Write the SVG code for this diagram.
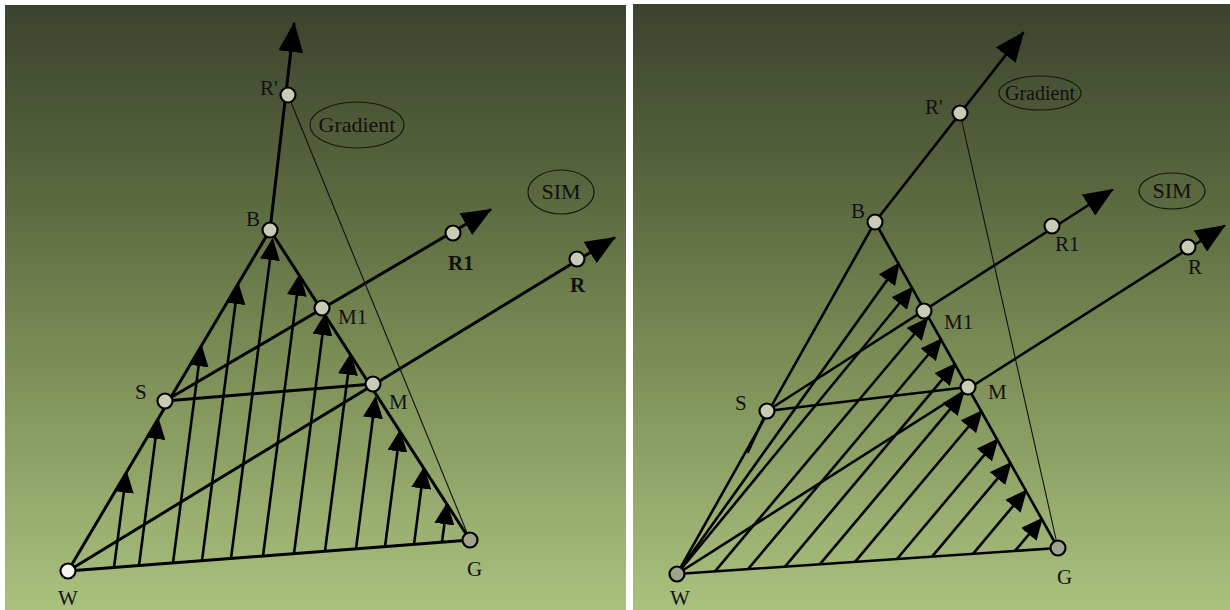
<svg xmlns="http://www.w3.org/2000/svg" width="1230" height="610" viewBox="0 0 1230 610">
<defs>
<linearGradient id="bg" x1="0" y1="0" x2="0" y2="1">
<stop offset="0" stop-color="#3b432d"/>
<stop offset="0.3" stop-color="#59663e"/>
<stop offset="0.6" stop-color="#7d8f57"/>
<stop offset="1" stop-color="#aac17e"/>
</linearGradient>
<marker id="a" viewBox="0 0 22 20" refX="20" refY="10" markerWidth="22" markerHeight="20" orient="auto" markerUnits="userSpaceOnUse"><path d="M0,0 L22,10 L0,20 z" fill="#000"/></marker>
<marker id="big" viewBox="0 0 30 25" refX="28" refY="12.5" markerWidth="30" markerHeight="25" orient="auto" markerUnits="userSpaceOnUse"><path d="M0,0 L30,12.5 L0,25 z" fill="#000"/></marker>
</defs>
<style>
.ln{stroke:#000;stroke-width:3;fill:none;stroke-linecap:round}
.ln2{stroke:#000;stroke-width:2.6;fill:none;stroke-linecap:round}
.ar{stroke:#000;stroke-width:2.6;fill:none;marker-end:url(#a)}
.bg-ar{marker-end:url(#big)}
.thin{stroke:#111;stroke-width:1.1;fill:none}
.nd{fill:#c9ccb4;stroke:#000;stroke-width:2.2}
.ndw{fill:#f3f4ee;stroke:#000;stroke-width:2.2}
.ndg{fill:#9ea38a;stroke:#000;stroke-width:2.2}
.el{fill:none;stroke:#15190f;stroke-width:1.2}
.t{font-family:"Liberation Serif","Times New Roman",serif;font-size:21px;fill:#111}
.tb{font-family:"Liberation Serif","Times New Roman",serif;font-size:21px;fill:#111;font-weight:bold}
.te{font-family:"Liberation Serif","Times New Roman",serif;font-size:22px;fill:#111;text-anchor:middle}
</style>
<rect x="0" y="0" width="1230" height="610" fill="#ffffff"/>
<rect x="5" y="5" width="621" height="605" fill="url(#bg)"/>
<rect x="633" y="4" width="597" height="606" fill="url(#bg)"/>

<g id="connectors-left">
<line class="ln" x1="68" y1="571" x2="270" y2="230"/>
<line class="ln" x1="270" y1="230" x2="470" y2="540"/>
<line class="ln" x1="68" y1="571" x2="470" y2="540"/>
<line class="ln" x1="165" y1="401" x2="373" y2="384"/>
<line class="ln bg-ar" x1="270" y1="230" x2="294" y2="24"/>
<line class="ln bg-ar" x1="165" y1="401" x2="490" y2="210"/>
<line class="ln bg-ar" x1="68" y1="571" x2="614" y2="238"/>
<line class="thin" x1="288" y1="95" x2="470" y2="540"/>
<line class="ar" x1="114" y1="567.5" x2="126.4" y2="472.5"/>
<line class="ar" x1="139" y1="565.5" x2="158" y2="419"/>
<line class="ar" x1="173" y1="562.9" x2="201.2" y2="346.2"/>
<line class="ar" x1="202" y1="560.7" x2="238" y2="284"/>
<line class="ar" x1="231" y1="558.4" x2="272.5" y2="240"/>
<line class="ar" x1="263" y1="556" x2="299.4" y2="275.7"/>
<line class="ar" x1="294" y1="553.6" x2="325" y2="315.2"/>
<line class="ar" x1="325" y1="551.2" x2="350.5" y2="354.8"/>
<line class="ar" x1="356" y1="548.8" x2="375.5" y2="398"/>
<line class="ar" x1="385" y1="546.6" x2="400" y2="431.4"/>
<line class="ar" x1="414" y1="544.3" x2="423.9" y2="468.5"/>
<line class="ar" x1="442" y1="542.2" x2="447" y2="504.3"/>
</g>

<g id="connectors-right">
<line class="ln2" x1="677" y1="574" x2="875" y2="222"/>
<line class="ln2" x1="875" y1="222" x2="1058" y2="548"/>
<line class="ln2" x1="677" y1="574" x2="1058" y2="548"/>
<line class="ln2" x1="767" y1="411" x2="968" y2="387"/>
<line class="ln2" x1="767" y1="411" x2="748" y2="452"/>
<line class="ln2 bg-ar" x1="875" y1="222" x2="1023" y2="33"/>
<line class="ln2 bg-ar" x1="767" y1="411" x2="1112" y2="190"/>
<line class="ln2 bg-ar" x1="677" y1="574" x2="1224" y2="226"/>
<line class="thin" x1="960" y1="113" x2="1058" y2="548"/>
<line class="ar" x1="677" y1="574" x2="898.6" y2="264"/>
<line class="ar" x1="677" y1="574" x2="912" y2="288"/>
<line class="ar" x1="715" y1="571.4" x2="927" y2="319"/>
<line class="ar" x1="748" y1="569.2" x2="941" y2="339.5"/>
<line class="ar" x1="785" y1="566.6" x2="955" y2="364.3"/>
<line class="ar" x1="820" y1="564.2" x2="962.8" y2="394.2"/>
<line class="ar" x1="855" y1="561.9" x2="981.3" y2="411.5"/>
<line class="ar" x1="897" y1="559" x2="997.2" y2="439.7"/>
<line class="ar" x1="932" y1="556.6" x2="1010.4" y2="463.3"/>
<line class="ar" x1="973" y1="553.8" x2="1025.8" y2="490.9"/>
<line class="ar" x1="1015" y1="550.9" x2="1041.7" y2="519.1"/>
</g>

<g id="left-W"><circle class="ndw" cx="68" cy="571" r="7.5"/><text class="t" x="58" y="605">W</text></g>
<g id="left-G"><circle class="ndg" cx="470" cy="540" r="7.5"/><text class="t" x="467" y="576">G</text></g>
<g id="left-B"><circle class="nd" cx="270" cy="230" r="7.5"/><text class="t" x="246" y="226">B</text></g>
<g id="left-S"><circle class="nd" cx="165" cy="401" r="7.5"/><text class="t" x="135" y="399">S</text></g>
<g id="left-M"><circle class="nd" cx="373" cy="384" r="7.5"/><text class="t" x="389" y="409">M</text></g>
<g id="left-M1"><circle class="nd" cx="322" cy="308" r="7.5"/><text class="t" x="338" y="324">M1</text></g>
<g id="left-Rp"><circle class="nd" cx="288" cy="95" r="7.5"/><text class="t" x="260" y="95">R'</text></g>
<g id="left-R1"><circle class="nd" cx="453" cy="233" r="7.5"/><text class="tb" x="448" y="270">R1</text></g>
<g id="left-R"><circle class="nd" cx="577" cy="259" r="7.5"/><text class="tb" x="570" y="292">R</text></g>
<g id="left-gradient"><ellipse class="el" cx="357" cy="125" rx="47" ry="23"/><text class="te" x="357" y="132">Gradient</text></g>
<g id="left-sim"><ellipse class="el" cx="561" cy="192" rx="33" ry="22"/><text class="te" x="561" y="199">SIM</text></g>

<g id="right-W"><circle class="ndg" cx="677" cy="574" r="7.5"/><text class="t" x="670" y="605">W</text></g>
<g id="right-G"><circle class="ndg" cx="1058" cy="548" r="7.5"/><text class="t" x="1057" y="584">G</text></g>
<g id="right-B"><circle class="nd" cx="875" cy="222" r="7.5"/><text class="t" x="851" y="218">B</text></g>
<g id="right-S"><circle class="nd" cx="767" cy="411" r="7.5"/><text class="t" x="735" y="410">S</text></g>
<g id="right-M"><circle class="nd" cx="968" cy="387" r="7.5"/><text class="t" x="988" y="399">M</text></g>
<g id="right-M1"><circle class="nd" cx="924" cy="311" r="7.5"/><text class="t" x="944" y="329">M1</text></g>
<g id="right-Rp"><circle class="nd" cx="960" cy="113" r="7.5"/><text class="t" x="925" y="114">R'</text></g>
<g id="right-R1"><circle class="nd" cx="1052" cy="226" r="7.5"/><text class="t" x="1055" y="251">R1</text></g>
<g id="right-R"><circle class="nd" cx="1188" cy="247" r="7.5"/><text class="t" x="1188" y="274">R</text></g>
<g id="right-gradient"><ellipse class="el" cx="1040" cy="93" rx="41" ry="17"/><text class="te" x="1040" y="100" style="font-size:20px">Gradient</text></g>
<g id="right-sim"><ellipse class="el" cx="1172" cy="191" rx="33" ry="18"/><text class="te" x="1172" y="198">SIM</text></g>
</svg>
